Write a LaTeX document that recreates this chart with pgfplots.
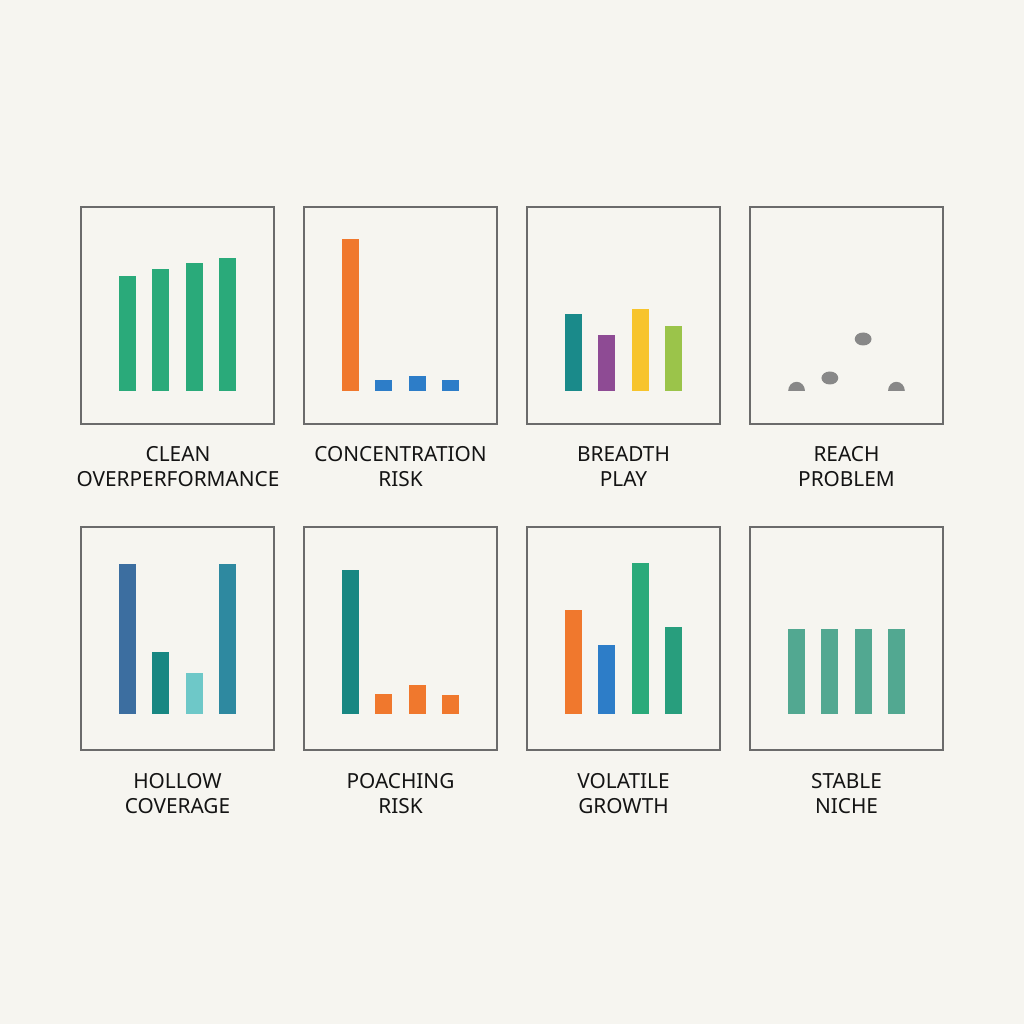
\documentclass[border=0pt]{standalone}
\usepackage{pgfplots}
\pgfplotsset{compat=1.18}
\usepackage{fontspec}
\setmainfont{Noto Sans}
\definecolor{bgc}{HTML}{F6F5F0}
\definecolor{frame}{HTML}{6B6B6B}
\definecolor{txt}{HTML}{141414}
\definecolor{cgreen}{HTML}{2AAA7A}
\definecolor{corange}{HTML}{F0782D}
\definecolor{cblue}{HTML}{2D7DC8}
\definecolor{cteal}{HTML}{1A8A8A}
\definecolor{cpurple}{HTML}{8E4B94}
\definecolor{cyellow}{HTML}{F7C42C}
\definecolor{clime}{HTML}{9BC44A}
\definecolor{cgray}{HTML}{888888}
\definecolor{csteel}{HTML}{3C6EA0}
\definecolor{cteal2}{HTML}{188782}
\definecolor{clight}{HTML}{6EC8C8}
\definecolor{cpetrol}{HTML}{2E89A0}
\definecolor{cgreen2}{HTML}{289E7D}
\definecolor{csage}{HTML}{52A891}
\pgfdeclareplotmark{ovaldot}{\pgfpathellipse{\pgfpointorigin}{\pgfqpoint{4.2pt}{0pt}}{\pgfqpoint{0pt}{3.25pt}}\pgfusepathqfill}
\pgfdeclareplotmark{halfdot}{\pgfpathmoveto{\pgfqpoint{4.2pt}{0pt}}\pgfpatharc{0}{180}{4.2pt and 4.6pt}\pgfpathclose\pgfusepathqfill}
\pgfplotsset{
  panel/.style={scale only axis, width=96.5pt, anchor=south west,
    xmin=-0.4, xmax=5.4, xtick=\empty, ytick=\empty,
    axis line style={draw=frame, line width=0.65pt}, clip=false},
  row1/.style={height=108.5pt, ymin=-33, ymax=184},
  row2/.style={height=111.5pt, ymin=-36, ymax=187},
  bb/.style={ybar, bar width=0.51, bar shift=0pt, fill=#1, draw=none},
}
\newcommand{\lab}[3]{\node[anchor=base, align=center, text=txt, font=\fontsize{10.4}{12.5}\selectfont] at (#1,#2) {#3};}
\begin{document}
\begin{tikzpicture}
\fill[bgc] (0,0) rectangle (512pt,512pt);
% Row 1
\begin{axis}[panel,row1,at={(40.5pt,300pt)}]
\addplot[bb=cgreen] coordinates {(1,115)};
\addplot[bb=cgreen] coordinates {(2,122)};
\addplot[bb=cgreen] coordinates {(3,128)};
\addplot[bb=cgreen] coordinates {(4,133)};
\end{axis}
\begin{axis}[panel,row1,at={(152pt,300pt)}]
\addplot[bb=corange] coordinates {(1,152)};
\addplot[bb=cblue] coordinates {(2,11)};
\addplot[bb=cblue] coordinates {(3,15)};
\addplot[bb=cblue] coordinates {(4,11)};
\end{axis}
\begin{axis}[panel,row1,at={(263.5pt,300pt)}]
\addplot[bb=cteal] coordinates {(1,77)};
\addplot[bb=cpurple] coordinates {(2,56)};
\addplot[bb=cyellow] coordinates {(3,82)};
\addplot[bb=clime] coordinates {(4,65)};
\end{axis}
\begin{axis}[panel,row1,at={(375pt,300pt)}]
\addplot[only marks, mark=halfdot, color=cgray] coordinates {(1,0) (4,0)};
\addplot[only marks, mark=ovaldot, color=cgray] coordinates {(2,13) (3,52)};
\end{axis}
% Row 2
\begin{axis}[panel,row2,at={(40.5pt,137pt)}]
\addplot[bb=csteel] coordinates {(1,150)};
\addplot[bb=cteal2] coordinates {(2,62)};
\addplot[bb=clight] coordinates {(3,41)};
\addplot[bb=cpetrol] coordinates {(4,150)};
\end{axis}
\begin{axis}[panel,row2,at={(152pt,137pt)}]
\addplot[bb=cteal2] coordinates {(1,144)};
\addplot[bb=corange] coordinates {(2,20)};
\addplot[bb=corange] coordinates {(3,29)};
\addplot[bb=corange] coordinates {(4,19)};
\end{axis}
\begin{axis}[panel,row2,at={(263.5pt,137pt)}]
\addplot[bb=corange] coordinates {(1,104)};
\addplot[bb=cblue] coordinates {(2,69)};
\addplot[bb=cgreen] coordinates {(3,151)};
\addplot[bb=cgreen2] coordinates {(4,87)};
\end{axis}
\begin{axis}[panel,row2,at={(375pt,137pt)}]
\addplot[bb=csage] coordinates {(1,85)};
\addplot[bb=csage] coordinates {(2,85)};
\addplot[bb=csage] coordinates {(3,85)};
\addplot[bb=csage] coordinates {(4,85)};
\end{axis}
\lab{89pt}{268.5pt}{CLEAN\\OVERPERFORMANCE}
\lab{200.25pt}{268.5pt}{CONCENTRATION\\RISK}
\lab{311.75pt}{268.5pt}{BREADTH\\PLAY}
\lab{423.25pt}{268.5pt}{REACH\\PROBLEM}
\lab{88.75pt}{105pt}{HOLLOW\\COVERAGE}
\lab{200.25pt}{105pt}{POACHING\\RISK}
\lab{311.75pt}{105pt}{VOLATILE\\GROWTH}
\lab{423.25pt}{105pt}{STABLE\\NICHE}
\end{tikzpicture}
\end{document}
